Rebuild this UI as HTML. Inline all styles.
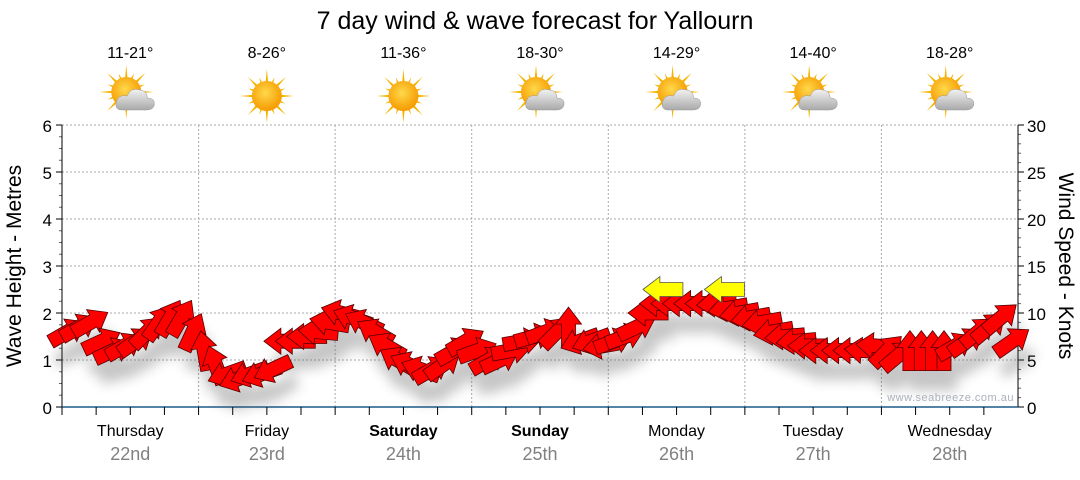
<!DOCTYPE html>
<html><head><meta charset="utf-8"><style>
body{margin:0;background:#fff;width:1080px;height:475px;overflow:hidden;font-family:"Liberation Sans",sans-serif}
</style></head><body>
<svg id="chart" width="1080" height="475" xmlns="http://www.w3.org/2000/svg" font-family="Liberation Sans, sans-serif">
<defs>
<filter id="sh" x="-50%" y="-50%" width="200%" height="200%"><feGaussianBlur stdDeviation="6"/></filter>
<radialGradient id="sun" cx="45%" cy="40%" r="60%"><stop offset="0" stop-color="#ffd84a"/><stop offset="1" stop-color="#f59a00"/></radialGradient>
<linearGradient id="cloud" x1="0" y1="0" x2="0" y2="1"><stop offset="0" stop-color="#f2f2f2"/><stop offset="1" stop-color="#a9a9a9"/></linearGradient>
</defs>
<text x="535" y="29" font-size="25" text-anchor="middle" fill="#000">7 day wind &amp; wave forecast for Yallourn</text>
<g id="grid"></g><g id="axes"></g><g id="icons"></g>
<g id="shadow" filter="url(#sh)" opacity="0.3"></g>
<g id="arrows"></g>
<text x="1014" y="401" font-size="11" text-anchor="end" fill="#aab0bb" letter-spacing="0.5">www.seabreeze.com.au</text>
<text transform="translate(21,266) rotate(-90)" font-size="21" text-anchor="middle">Wave Height - Metres</text>
<text transform="translate(1059,266) rotate(90)" font-size="21" text-anchor="middle">Wind Speed - Knots</text>
</svg>
<script>
const days=["Thursday","Friday","Saturday","Sunday","Monday","Tuesday","Wednesday"];
const dates=["22nd","23rd","24th","25th","26th","27th","28th"];
const weekend=[false,false,true,true,false,false,false];
const temps=["11-21°","8-26°","11-36°","18-30°","14-29°","14-40°","18-28°"];
const cloudy=[true,false,false,true,true,true,true];
const waveTicks=[0,1,2,3,4,5,6];
const windTicks=[0,5,10,15,20,25,30];
// wind every 2 hours (12 per day)
const windSpeed=[
8,8.5,9,7,6,6.5,7,8,9,9.5,9.5,8,
6,4.5,3.5,3,3.5,3.5,4,7,7,7.5,8,9,
10,9.5,9,8,6.5,5,4.5,4,4,4.5,6,7,
6,5,5,6,7,7.5,8,8,8.5,7,7,6.5,
7,7.5,8.5,10,11,11,11,11,11,11,10.5,10,
9.5,9,8,7.5,7,6.5,6,6,6,6,6,6.5,
6,5.5,6,6,6,6,6.5,7,8,8.5,9.5,7];
const windDir=[
30,30,30,25,25,30,35,45,55,60,60,65,
100,110,200,200,200,200,205,180,180,180,175,170,
165,160,155,150,150,150,155,160,30,35,30,30,
20,30,25,10,10,15,20,45,90,200,200,190,
20,20,25,180,180,180,180,180,180,185,190,190,
190,190,190,185,185,180,180,180,180,180,175,175,
45,40,90,90,90,90,30,35,40,40,40,35];
const gustX=[4.4,4.85];
const gustSpeed=[12.5,12.5];
const X0=62,X1=1018,Y0=407,Y1=125,NS="http://www.w3.org/2000/svg";
const PER=12;
const dayW=(X1-X0)/7;
const xDay=d=>X0+d*dayW;
const yWind=k=>Y0-(Y0-Y1)*k/30;
function mk(t,a,p){const e=document.createElementNS(NS,t);for(const k in a)e.setAttribute(k,a[k]);(p||document.getElementById('chart')).appendChild(e);return e;}
const grid=document.getElementById('grid'),axes=document.getElementById('axes'),icons=document.getElementById('icons');
waveTicks.forEach(v=>{const y=Y0-(Y0-Y1)*v/6;
 if(v>0){const l=mk('line',{x1:X0,x2:X1,y1:y,y2:y,stroke:'#aaa','stroke-dasharray':'2,2'},grid);}
 const t=mk('text',{x:52,y:y+7,'font-size':17,'text-anchor':'end'},axes);t.textContent=v;
 mk('line',{x1:X0-6,x2:X0,y1:y,y2:y,stroke:'#000'},axes);
 if(v<6)for(let m=1;m<4;m++){const yy=y-(Y0-Y1)/6*m/4;mk('line',{x1:X0-3,x2:X0,y1:yy,y2:yy,stroke:'#666'},axes);}
});
windTicks.forEach(v=>{const y=yWind(v);
 const t=mk('text',{x:1027,y:y+7,'font-size':17},axes);t.textContent=v;
 mk('line',{x1:X1,x2:X1+6,y1:y,y2:y,stroke:'#000'},axes);
 if(v<30)for(let m=1;m<5;m++){const yy=yWind(v+m);mk('line',{x1:X1,x2:X1+3,y1:yy,y2:yy,stroke:'#666'},axes);}
});
mk('line',{x1:X0,x2:X0,y1:Y1,y2:Y0,stroke:'#000'},axes);
mk('line',{x1:X1,x2:X1,y1:Y1,y2:Y0,stroke:'#000'},axes);
mk('line',{x1:X0,x2:X1,y1:Y0,y2:Y0,stroke:'#1a5a8a','stroke-width':1.5},axes);
for(let d=0;d<7;d++){
 if(d>0){const l=mk('line',{x1:xDay(d),x2:xDay(d),y1:Y1,y2:Y0,stroke:'#aaa','stroke-dasharray':'2,2'},grid);}
 for(let q=0;q<4;q++){const x=xDay(d)+q*dayW/4;mk('line',{x1:x,x2:x,y1:Y0,y2:Y0+8,stroke:'#000'},axes);}
 const cx=xDay(d)+dayW/2;
 const dn=mk('text',{x:cx,y:436,'font-size':16,'text-anchor':'middle','font-weight':weekend[d]?'bold':'normal'},axes);dn.textContent=days[d];
 
 const dt=mk('text',{x:cx,y:460,'font-size':18,'text-anchor':'middle',fill:'#808080'},axes);dt.textContent=dates[d];
 
 const tp=mk('text',{x:cx,y:58,'font-size':16,'text-anchor':'middle'},icons);tp.textContent=temps[d];
 
 const g=mk('g',{transform:`translate(${cx},${96})`},icons);
 
 const sx=cloudy[d]?-4:0,sy=cloudy[d]?-4:0;
 for(let r=0;r<16;r++){const a=r*Math.PI/8,L=r%2?20:27;mk('polygon',{points:`${sx+Math.cos(a-0.12)*12},${sy+Math.sin(a-0.12)*12} ${sx+Math.cos(a)*L},${sy+Math.sin(a)*L} ${sx+Math.cos(a+0.12)*12},${sy+Math.sin(a+0.12)*12}`,fill:'#f5b400'},g);}
 mk('circle',{cx:sx,cy:sy,r:15,fill:'url(#sun)'},g);
 if(cloudy[d]){mk('path',{d:'M-8,14 Q-16,14 -14,6 Q-12,-2 -3,0 Q0,-9 10,-6 Q17,-5 17,2 Q25,2 24,9 Q23,14 16,14 Z',fill:'url(#cloud)',stroke:'#999','stroke-width':0.5},g);}
}
function arrowPts(cx,cy,ang,len){const a=-ang*Math.PI/180,c=Math.cos(a),s=Math.sin(a);
 const L=len/2,hw=13,sw=7,hl=17;
 const pts=[[L,0],[L-hl,hw],[L-hl,sw],[-L,sw],[-L,-sw],[L-hl,-sw],[L-hl,-hw]];
 return pts.map(p=>`${(cx+p[0]*c-p[1]*s).toFixed(1)},${(cy+p[0]*s+p[1]*c).toFixed(1)}`).join(' ');}
const sg=document.getElementById('shadow'),ag=document.getElementById('arrows');
windSpeed.forEach((k,i)=>{const x=X0+(i+0.5)*dayW/PER,y=yWind(k);
 mk('polygon',{points:arrowPts(x+6,y+20,windDir[i],40),fill:'#444'},sg);
});
windSpeed.forEach((k,i)=>{const x=X0+(i+0.5)*dayW/PER,y=yWind(k);
 const p=mk('polygon',{points:arrowPts(x,y,windDir[i],40),fill:'#ff0000',stroke:'#550000','stroke-width':0.8},ag);
 
});
gustX.forEach((d,i)=>{const p=mk('polygon',{points:arrowPts(xDay(d),yWind(gustSpeed[i]),180,40),fill:'#ffff00',stroke:'#555','stroke-width':0.8},ag);
 });
</script>
</body></html>
